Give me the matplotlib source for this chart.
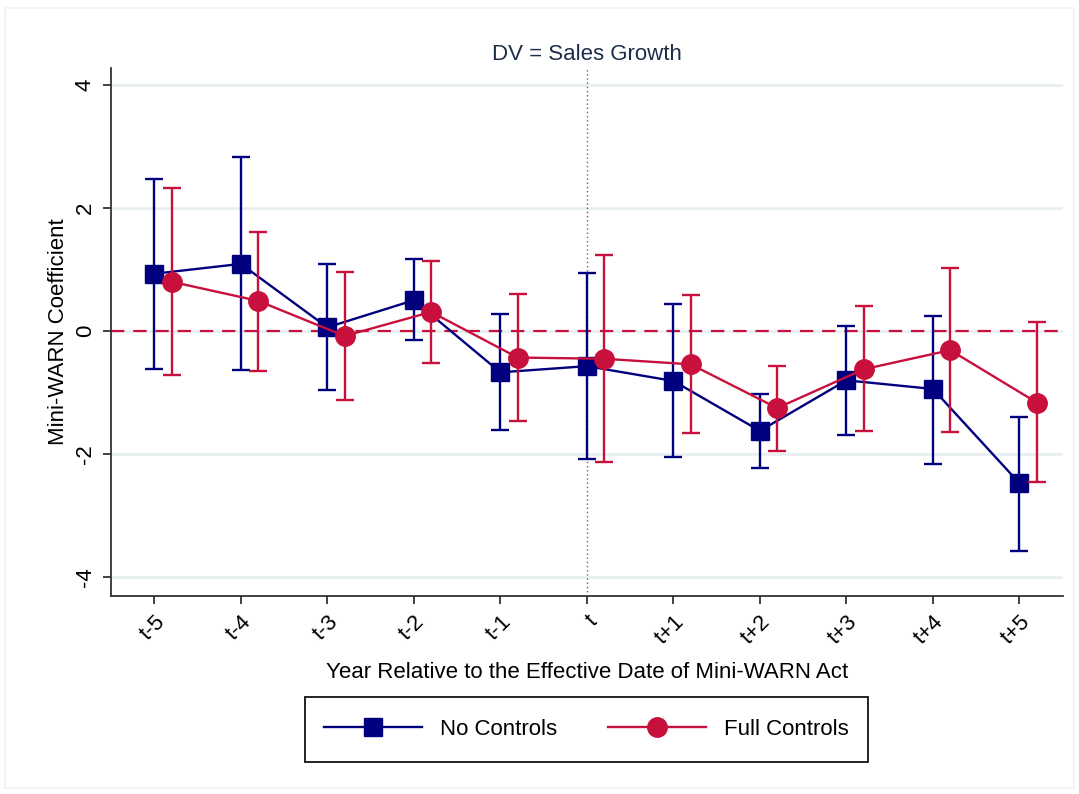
import matplotlib
matplotlib.use("Agg")
import matplotlib.pyplot as plt
from matplotlib.patches import Rectangle
from matplotlib.lines import Line2D
import numpy as np

plt.rcParams['font.family'] = ['Liberation Sans', 'DejaVu Sans']

categories = ["t-5", "t-4", "t-3", "t-2", "t-1", "t", "t+1", "t+2", "t+3", "t+4", "t+5"]
rel_year = [-5, -4, -3, -2, -1, 0, 1, 2, 3, 4, 5]

no_ctrl_coef = [0.93, 1.09, 0.06, 0.50, -0.67, -0.57, -0.81, -1.62, -0.80, -0.94, -2.47]
no_ctrl_hi = [2.47, 2.82, 1.09, 1.17, 0.28, 0.94, 0.44, -1.02, 0.09, 0.25, -1.39]
no_ctrl_lo = [-0.62, -0.63, -0.96, -0.15, -1.61, -2.08, -2.05, -2.22, -1.69, -2.15, -3.57]

full_ctrl_coef = [0.80, 0.49, -0.08, 0.31, -0.43, -0.45, -0.54, -1.25, -0.62, -0.31, -1.16]
full_ctrl_hi = [2.32, 1.61, 0.96, 1.14, 0.60, 1.23, 0.58, -0.56, 0.40, 1.02, 0.15]
full_ctrl_lo = [-0.71, -0.65, -1.12, -0.52, -1.46, -2.13, -1.65, -1.95, -1.63, -1.64, -2.45]

y_ticks = [-4, -2, 0, 2, 4]

NAVY = "#00007f"
RED = "#c8103c"
FS = 16

fig = plt.figure(figsize=(10.79, 7.94), dpi=100)
fig.patches.append(Rectangle((0.005, 0.008), 0.99, 0.982, transform=fig.transFigure,
                             fill=False, edgecolor="#eef2f4", linewidth=1.2))
ax = fig.add_axes([0.1029, 0.2494, 0.882, 0.665])

x = np.array(rel_year, dtype=float)
off = 0.2

for yv in y_ticks:
    ax.axhline(yv, color="#e6eef1", linewidth=1.8, zorder=0)
ax.axvline(0, color="#666666", linestyle=(0, (1, 2)), linewidth=1.0, zorder=1)
ax.axhline(0, color=RED, linestyle=(0, (6, 4)), linewidth=1.6, zorder=1)

nc = np.array(no_ctrl_coef)
fc = np.array(full_ctrl_coef)
ax.errorbar(x, nc, yerr=[nc - np.array(no_ctrl_lo), np.array(no_ctrl_hi) - nc],
            fmt='s-', color=NAVY, markersize=12.5, linewidth=1.7, elinewidth=1.7,
            capsize=6.5, capthick=1.7, zorder=3)
ax.errorbar(x + off, fc, yerr=[fc - np.array(full_ctrl_lo), np.array(full_ctrl_hi) - fc],
            fmt='o-', color=RED, markersize=14, linewidth=1.7, elinewidth=1.7,
            capsize=6.5, capthick=1.7, zorder=4)

ax.set_xlim(-5.5, 5.5)
ax.set_ylim(-4.3, 4.27)
ax.set_yticks(y_ticks)
ax.set_yticklabels([str(v) for v in y_ticks], rotation=90, va='center', fontsize=FS)
ax.set_xticks(rel_year)
ax.set_xticklabels(categories, rotation=45, ha='right', rotation_mode='anchor', fontsize=FS)

for s in ["top", "right"]:
    ax.spines[s].set_visible(False)
for s in ["left", "bottom"]:
    ax.spines[s].set_color("#333333")
    ax.spines[s].set_linewidth(1.3)
ax.tick_params(axis='both', direction='out', length=6, width=1.3, color="#333333", pad=5)

ax.set_ylabel("Mini-WARN Coefficient", fontsize=FS, labelpad=4)
ax.set_xlabel("Year Relative to the Effective Date of Mini-WARN Act", fontsize=FS, labelpad=10)
ax.set_title("DV = Sales Growth", fontsize=FS, color="#1e2d4a", pad=6)

# legend frame (Stata-style box)
fig.patches.append(Rectangle((0.2827, 0.0403), 0.5218, 0.0819, transform=fig.transFigure,
                             fill=False, edgecolor="#111111", linewidth=1.3))
handles = [Line2D([], [], color=NAVY, marker='s', markersize=12.5, linewidth=1.7),
           Line2D([], [], color=RED, marker='o', markersize=14, linewidth=1.7)]
leg = fig.legend(handles, ["No Controls", "Full Controls"], loc='center',
                 bbox_to_anchor=(0.5436, 0.0812), ncol=2, fontsize=FS,
                 frameon=False, handlelength=4.4, handletextpad=0.8,
                 columnspacing=2.3, borderpad=0.55, borderaxespad=0)

fig.savefig("out.png", dpi=100, facecolor="white")
